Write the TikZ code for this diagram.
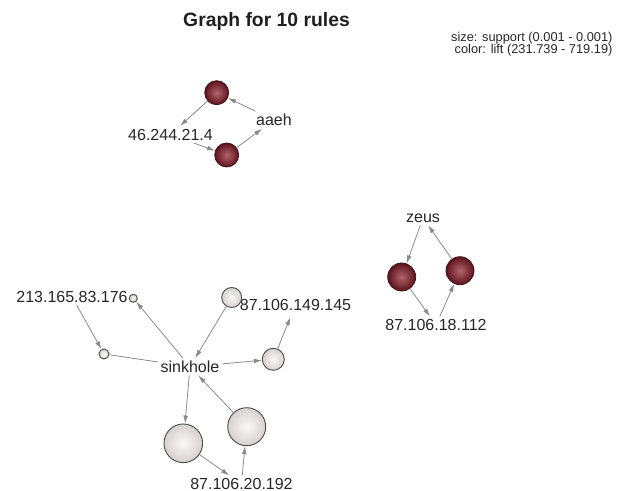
\documentclass[tikz,border=0pt]{standalone}
\usepackage{fontspec}
\setmainfont{Liberation Sans}
\usetikzlibrary{arrows.meta}
\definecolor{edgegrey}{HTML}{8A8A8A}
\definecolor{rulein}{HTML}{B2646C}
\definecolor{ruleout}{HTML}{5E121C}
\definecolor{ruleline}{HTML}{3A1818}
\definecolor{lightin}{HTML}{FAF8F8}
\definecolor{lightout}{HTML}{D6D1D1}
\definecolor{lightline}{HTML}{4E4E4E}
\tikzset{
  itemlabel/.style={inner sep=2pt, font=\fontsize{12pt}{14pt}\selectfont, text=black!85},
  hotrule/.style={circle, inner sep=0pt, minimum size=#1, draw=ruleline, line width=0.6pt,
    inner color=rulein, outer color=ruleout},
  coldrule/.style={circle, inner sep=0pt, minimum size=#1, draw=lightline, line width=0.7pt,
    inner color=lightin, outer color=lightout},
  link/.style={draw=edgegrey, line width=0.6pt, -{Latex[length=6pt,width=3.6pt]}},
  plainlink/.style={draw=edgegrey, line width=0.6pt},
}
\begin{document}
\begin{tikzpicture}[x=0.75pt, y=-0.75pt]
\path[use as bounding box] (0,0) rectangle (625,491);

% title and legend
\node[font=\fontsize{14.5pt}{17pt}\selectfont\bfseries, text=black!88] (title) at (266.5,21.7) {Graph for 10 rules};
\node[anchor=east, align=right, inner sep=0pt, font=\fontsize{9.6pt}{9.2pt}\selectfont, text=black!85] (legend) at (612.7,44.2)
  {size: support (0.001 - 0.001)\\color: lift (231.739 - 719.19)};

% items
\node[itemlabel] (ip46)   at (170.5,134.5) {46.244.21.4};
\node[itemlabel] (aaeh)   at (274,120)     {aaeh};
\node[itemlabel] (zeus)   at (423,218)     {zeus};
\node[itemlabel] (ip18)   at (436,325)     {87.106.18.112};
\node[itemlabel] (sink)   at (190,366.7)   {sinkhole};
\node[itemlabel] (ip213)  at (72,296.7)    {213.165.83.176};
\node[itemlabel] (ip149)  at (295.5,305)   {87.106.149.145};
\node[itemlabel] (ip20)   at (241.5,484)   {87.106.20.192};

% rules (high lift)
\node[hotrule=18pt] (rA) at (216.7,92.7) {};
\node[hotrule=18pt] (rB) at (226.7,155)  {};
\node[hotrule=21pt] (rC) at (401.7,277)  {};
\node[hotrule=21pt] (rD) at (460,270.7)  {};

% rules (low lift)
\node[coldrule=6pt]    (rE) at (133.3,298.3) {};
\node[coldrule=7.5pt]  (rF) at (104,354)     {};
\node[coldrule=15pt]   (rG) at (231.7,297.5) {};
\node[coldrule=16.5pt] (rH) at (273.3,359.3) {};
\node[coldrule=29pt]   (rI) at (183.3,443.3) {};
\node[coldrule=28.5pt] (rJ) at (246.7,426.7) {};

% connectors
\draw[link] (rA) -- (ip46);
\draw[link] (ip46) -- (rB);
\draw[link] (rB) -- (aaeh);
\draw[link] (aaeh) -- (rA);

\draw[link] (zeus) -- (rC);
\draw[link] (rC) -- (ip18);
\draw[link] (ip18) -- (rD);
\draw[link] (rD) -- (zeus);

\draw[link] (ip213) -- (rF);
\draw[plainlink] (rF) -- (sink);
\draw[link] (sink) -- (rE);
\draw[link] (rG) -- (sink);
\draw[link] (sink) -- (rH);
\draw[link, shorten >=3pt] (rH) -- (ip149);
\draw[link] (sink) -- (rI);
\draw[link] (rI) -- (ip20);
\draw[link] (ip20) -- (rJ);
\draw[link] (rJ) -- (sink);
\end{tikzpicture}
\end{document}
